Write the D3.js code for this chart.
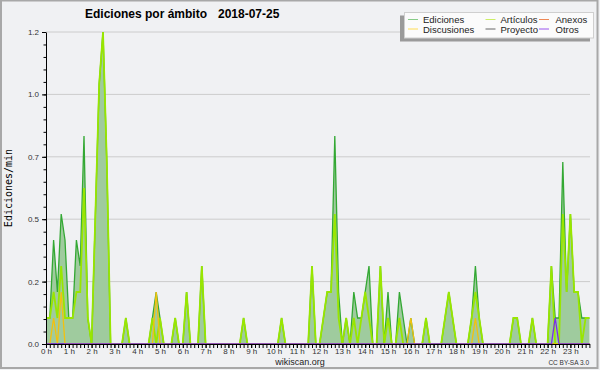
<!DOCTYPE html>
<html>
<head>
<meta charset="utf-8">
<script src="https://cdn.jsdelivr.net/npm/d3@7"></script>
<style>
  body { margin: 0; background: #f0f1f3; }
  svg { display: block; font-family: 'Liberation Sans', Arial, sans-serif; }
</style>
</head>
<body>
<script>
// edits per minute, one value per 10 minute slot (6 per hour)
const ediciones = [
  0.1, 0.1, 0.4, 0.2, 0.5, 0.4,   // 0 h
  0.1, 0.1, 0.4, 0.3, 0.8, 0.1,   // 1 h
  0, 0.5, 1.0, 1.2, 0.7, 0,       // 2 h
  0, 0, 0, 0.1, 0, 0,             // 3 h
  0, 0, 0, 0, 0.1, 0.2,           // 4 h
  0.1, 0, 0, 0, 0.1, 0,           // 5 h
  0, 0.2, 0, 0, 0, 0.3,           // 6 h
  0, 0, 0, 0, 0, 0,               // 7 h
  0, 0, 0, 0, 0.1, 0,             // 8 h
  0, 0, 0, 0, 0, 0,               // 9 h
  0, 0, 0.1, 0, 0, 0,             // 10 h
  0, 0, 0, 0, 0.3, 0,             // 11 h
  0, 0.1, 0.2, 0.2, 0.8, 0.2,     // 12 h
  0, 0.1, 0, 0.2, 0.1, 0.1,       // 13 h
  0.2, 0.3, 0, 0, 0.3, 0,         // 14 h
  0.2, 0, 0, 0.2, 0.1, 0,         // 15 h
  0.1, 0, 0, 0, 0.1, 0,           // 16 h
  0, 0, 0, 0.1, 0.2, 0.1,         // 17 h
  0, 0, 0, 0, 0.1, 0.3,           // 18 h
  0.1, 0, 0, 0, 0, 0,             // 19 h
  0, 0, 0, 0.1, 0.1, 0,           // 20 h
  0, 0, 0.1, 0, 0, 0,             // 21 h
  0, 0.3, 0.1, 0.1, 0.7, 0.2,     // 22 h
  0.5, 0.2, 0.2, 0.1, 0.1, 0.1    // 23 h
];
const articulos = [
  0.1, 0.1, 0.2, 0.1, 0.3, 0.1,
  0.1, 0.1, 0.2, 0.2, 0.6, 0.1,
  0, 0.5, 1.0, 1.2, 0.7, 0,
  0, 0, 0, 0.1, 0, 0,
  0, 0, 0, 0, 0.1, 0,
  0.1, 0, 0, 0, 0.1, 0,
  0, 0.2, 0, 0, 0, 0.3,
  0, 0, 0, 0, 0, 0,
  0, 0, 0, 0, 0.1, 0,
  0, 0, 0, 0, 0, 0,
  0, 0, 0.1, 0, 0, 0,
  0, 0, 0, 0, 0.3, 0,
  0, 0.1, 0.2, 0.2, 0.5, 0.1,
  0, 0.1, 0, 0.1, 0, 0.1,
  0.2, 0.1, 0, 0, 0.3, 0,
  0.1, 0, 0, 0.1, 0, 0,
  0, 0, 0, 0, 0.1, 0,
  0, 0, 0, 0.1, 0.2, 0.1,
  0, 0, 0, 0, 0.1, 0.2,
  0.1, 0, 0, 0, 0, 0,
  0, 0, 0, 0.1, 0.1, 0,
  0, 0, 0.1, 0, 0, 0,
  0, 0.3, 0, 0, 0.5, 0.2,
  0.5, 0.2, 0.2, 0, 0.1, 0.1
];
// sparse series: slot index -> value
const discusiones = {2: 0.1, 4: 0.2, 29: 0.2, 96: 0.1, 113: 0.1};
const otros = {134: 0.1};
const anexos = {};
const proyecto = {};

const yTicks = [0, 0.24, 0.48, 0.72, 0.96, 1.2];
const hours = d3.range(0, 24);

const series = [
  {name: 'Ediciones', values: ediciones, color: '#33a833', swatch: '#88cc88'},
  {name: 'Artículos', values: articulos, color: '#99e600', swatch: '#ccee66'},
  {name: 'Anexos', values: anexos, color: '#f08040', swatch: '#ee8855'},
  {name: 'Discusiones', values: discusiones, color: '#f2c10f', swatch: '#ffdd55'},
  {name: 'Proyecto', values: proyecto, color: '#555555', swatch: '#666666'},
  {name: 'Otros', values: otros, color: '#7a30e8', swatch: '#9955ee'}
];
const legendOrder = ['Ediciones', 'Artículos', 'Anexos', 'Discusiones', 'Proyecto', 'Otros'];

const W = 600, H = 370;
const margin = {top: 32, right: 10.6, bottom: 26, left: 46};

const svg = d3.select('body').append('svg')
  .attr('width', W)
  .attr('height', H);

svg.append('rect')
  .attr('x', 1).attr('y', 0.5)
  .attr('width', 596.5).attr('height', 367.5)
  .attr('fill', '#f0f1f3')
  .attr('stroke', '#a8a8a8')
  .attr('stroke-width', 2);

// slot -> minutes since midnight
const nSlots = ediciones.length;
const toArray = v => Array.isArray(v) ? v : d3.range(nSlots).map(i => v[i] || 0);

const x = d3.scaleLinear()
  .domain([0, (nSlots - 1) * 10])
  .range([margin.left, W - margin.right]);
const y = d3.scaleLinear()
  .domain([0, 1.2])
  .range([H - margin.bottom, margin.top]);

// grid
svg.append('g')
  .selectAll('line')
  .data(yTicks.slice(1))
  .join('line')
  .attr('x1', margin.left).attr('x2', 590)
  .attr('y1', d => y(d)).attr('y2', d => y(d))
  .attr('stroke', '#cccccc');

// total area
svg.append('path')
  .datum(ediciones)
  .attr('fill', '#9fcb9e')
  .attr('d', d3.area()
    .x((d, i) => x(i * 10))
    .y0(y(0))
    .y1(d => y(d)));

const line = d3.line()
  .x((d, i) => x(i * 10))
  .y(d => y(d));

const drawOrder = ['Anexos', 'Proyecto', 'Ediciones', 'Artículos', 'Discusiones', 'Otros'];
drawOrder.forEach(name => {
  const s = series.find(s => s.name === name);
  svg.append('path')
    .datum(toArray(s.values))
    .attr('fill', 'none')
    .attr('stroke', s.color)
    .attr('stroke-width', name === 'Artículos' ? 1.8 : 1.3)
    .attr('d', line);
});

// y axis
svg.append('g')
  .attr('transform', `translate(${margin.left},0)`)
  .call(d3.axisLeft(y).tickValues(yTicks).tickFormat(d3.format('.1f')).tickSize(4).tickSizeOuter(0));
svg.append('g')
  .attr('transform', `translate(${margin.left},0)`)
  .call(d3.axisLeft(y).tickValues(d3.range(0, 1.2001, 0.048)).tickFormat('').tickSize(2.5).tickSizeOuter(0))
  .select('.domain').remove();

// x axis
const xAxis = svg.append('g')
  .attr('transform', `translate(0,${y(0)})`)
  .call(d3.axisBottom(x).tickValues(d3.range(0, 1440, 10)).tickFormat('').tickSize(4).tickSizeOuter(0));
xAxis.select('.domain').attr('d', `M${margin.left},0.5H590`);
svg.append('g')
  .attr('transform', `translate(0,${y(0)})`)
  .call(d3.axisBottom(x).tickValues(hours.map(h => h * 60)).tickFormat(d => `${d / 60} h`).tickSize(4).tickPadding(0))
  .select('.domain').remove();

svg.selectAll('.tick text')
  .attr('font-family', "'Liberation Sans', Arial, sans-serif")
  .attr('font-size', 8)
  .attr('fill', '#333');
svg.selectAll('.tick line').attr('stroke', '#000');

// titles
svg.append('text')
  .attr('x', 85).attr('y', 18)
  .attr('font-weight', 'bold').attr('font-size', 12)
  .text('Ediciones por ámbito');
svg.append('text')
  .attr('x', 218).attr('y', 18)
  .attr('font-weight', 'bold').attr('font-size', 12)
  .text('2018-07-25');

svg.append('text')
  .attr('transform', `translate(12,${(margin.top + y(0)) / 2}) rotate(-90)`)
  .attr('text-anchor', 'middle')
  .attr('font-family', "'DejaVu Sans Mono', monospace")
  .attr('font-size', 10)
  .text('Ediciones/min');

svg.append('text')
  .attr('x', 300).attr('y', 365)
  .attr('text-anchor', 'middle')
  .attr('font-size', 9)
  .attr('fill', '#222')
  .text('wikiscan.org');
svg.append('text')
  .attr('x', 589).attr('y', 365)
  .attr('text-anchor', 'end')
  .attr('font-size', 6.5)
  .attr('fill', '#333')
  .text('CC BY-SA 3.0');

// legend
const lg = svg.append('g');
lg.append('rect')
  .attr('x', 400).attr('y', 15.5).attr('width', 190).attr('height', 26)
  .attr('fill', '#9a9a9a');
lg.append('rect')
  .attr('x', 404.5).attr('y', 12.5).attr('width', 189).attr('height', 25.5)
  .attr('fill', '#fbfbfb')
  .attr('stroke', '#cfcfcf');
const colX = [408, 485.5, 539];
const rowY = [19.5, 29];
legendOrder.forEach((name, k) => {
  const s = series.find(s => s.name === name);
  const cx = colX[k % 3], cy = rowY[Math.floor(k / 3)];
  lg.append('line')
    .attr('x1', cx).attr('x2', cx + 10)
    .attr('y1', cy).attr('y2', cy)
    .attr('stroke', s.swatch);
  lg.append('text')
    .attr('x', cx + (k % 3 === 2 ? 16.5 : 15)).attr('y', cy + 3.5)
    .attr('font-size', 9.5)
    .attr('fill', '#222')
    .text(name);
});
</script>
</body>
</html>
